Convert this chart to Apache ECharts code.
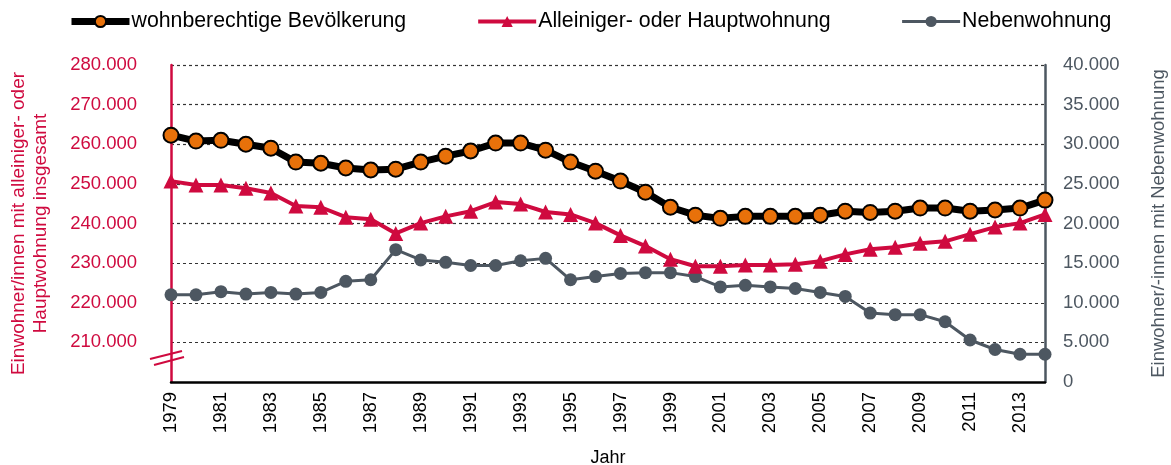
<!DOCTYPE html>
<html>
<head>
<meta charset="utf-8">
<script src="https://cdn.jsdelivr.net/npm/echarts@6/dist/echarts.min.js"></script>
<style>
    html, body { margin: 0; padding: 0; background: #fff; }
    #chart { width: 1171px; height: 465px; }
</style>
</head>
<body>
<div id="chart"></div>
<script>
    // Jahre
    const years = ['1979','1980','1981','1982','1983','1984','1985','1986','1987','1988',
        '1989','1990','1991','1992','1993','1994','1995','1996','1997','1998',
        '1999','2000','2001','2002','2003','2004','2005','2006','2007','2008',
        '2009','2010','2011','2012','2013','2014'];
    // wohnberechtigte Bevölkerung (linke Achse)
    const wohnberechtigt = [262300, 260800, 261000, 260000, 259000, 255500, 255200, 254000, 253500, 253700,
        255500, 257000, 258300, 260300, 260300, 258500, 255500, 253200, 250700, 247900,
        244100, 242100, 241300, 241800, 241800, 241800, 242100, 243100, 242800, 243100,
        243900, 243900, 243100, 243400, 243900, 245900];
    // Alleiniger- oder Hauptwohnung (linke Achse)
    const hauptwohnung = [250700, 249700, 249700, 248900, 247700, 244400, 244100, 241600, 241100, 237500,
        240100, 241800, 243100, 245400, 244900, 242900, 242300, 240100, 237000, 234300,
        231000, 229200, 229200, 229500, 229500, 229700, 230500, 232200, 233500, 234000,
        235000, 235500, 237300, 239100, 240100, 242300];
    // Nebenwohnung (rechte Achse)
    const nebenwohnung = [11000, 11000, 11400, 11100, 11300, 11100, 11300, 12700, 12900, 16700,
        15400, 15100, 14700, 14700, 15300, 15600, 12900, 13300, 13700, 13800,
        13800, 13300, 12000, 12200, 12000, 11800, 11300, 10800, 8700, 8500,
        8500, 7600, 5300, 4100, 3500, 3500];

    const red = '#cf0a3f';
    const grey = '#4d5761';
    const orange = '#e8710a';
    const font = 'Liberation Sans, Arial, sans-serif';

    function fmt(v) {
        return String(v).replace(/\B(?=(\d{3})+(?!\d))/g, '.');
    }

    const myChart = echarts.init(document.getElementById('chart'));
    const option = {
        animation: false,
        textStyle: { fontFamily: font },
        legend: {
            top: 6,
            left: 63,
            itemWidth: 58,
            itemHeight: 14,
            itemGap: 70,
            textStyle: { fontSize: 21.3, color: '#000', padding: [0, 0, 0, -3] },
            data: [
                { name: 'wohnberechtige Bevölkerung', lineStyle: { width: 7 } },
                { name: 'Alleiniger- oder Hauptwohnung', lineStyle: { width: 4 } },
                { name: 'Nebenwohnung', lineStyle: { width: 3 } }
            ]
        },
        grid: { left: 171, right: 126, top: 65, bottom: 83, containLabel: false, outerBoundsMode: 'none' },
        xAxis: {
            type: 'category',
            boundaryGap: false,
            data: years,
            name: 'Jahr',
            nameLocation: 'middle',
            nameGap: 67,
            nameTextStyle: { fontSize: 18, color: '#000' },
            axisLine: { lineStyle: { color: '#000', width: 2.5 } },
            axisTick: { show: false },
            axisLabel: { interval: 1, rotate: 90, fontSize: 18.5, color: '#000', margin: 10 }
        },
        yAxis: [
            {
                type: 'value',
                min: 200000,
                max: 280000,
                interval: 10000,
                name: 'Einwohner/innen mit alleiniger- oder\nHauptwohnung insgesamt',
                nameLocation: 'middle',
                nameRotate: 90,
                nameGap: 119,
                nameTextStyle: { fontSize: 19, color: red, lineHeight: 22, align: 'center' },
                axisLine: { show: true, lineStyle: { color: red, width: 2.5 } },
                axisTick: { show: false },
                axisLabel: {
                    fontSize: 18.5,
                    color: red,
                    margin: 34,
                    formatter: function (v) { return v === 200000 ? '' : fmt(v); }
                },
                splitLine: { lineStyle: { color: '#333', type: [3, 3], width: 1.2 } }
            },
            {
                type: 'value',
                min: 0,
                max: 40000,
                interval: 5000,
                name: 'Einwohner/-innen mit Nebenwohnung',
                nameLocation: 'middle',
                nameRotate: 90,
                nameGap: 104,
                nameTextStyle: { fontSize: 18.5, color: grey },
                axisLine: { show: true, lineStyle: { color: grey, width: 2.5 } },
                axisTick: { show: false },
                axisLabel: { fontSize: 18.5, color: grey, margin: 18, formatter: fmt },
                splitLine: { show: false }
            }
        ],
        series: [
            {
                name: 'Nebenwohnung',
                type: 'line',
                yAxisIndex: 1,
                data: nebenwohnung,
                symbol: 'circle',
                symbolSize: 13,
                itemStyle: { color: grey },
                lineStyle: { color: grey, width: 3 },
                z: 2
            },
            {
                name: 'Alleiniger- oder Hauptwohnung',
                type: 'line',
                data: hauptwohnung,
                symbol: 'triangle',
                symbolSize: 15,
                itemStyle: { color: red },
                lineStyle: { color: red, width: 4 },
                z: 3
            },
            {
                name: 'wohnberechtige Bevölkerung',
                type: 'line',
                data: wohnberechtigt,
                symbol: 'circle',
                symbolSize: 15,
                itemStyle: { color: orange, borderColor: '#000', borderWidth: 2 },
                lineStyle: { color: '#000', width: 7 },
                z: 4
            }
        ]
    };
    myChart.setOption(option);

    // Achsenbruch-Zeichen an der linken Achse
    const p1 = myChart.convertToPixel({ yAxisIndex: 0 }, 206800);
    const p2 = myChart.convertToPixel({ yAxisIndex: 0 }, 205300);
    const ax = myChart.convertToPixel({ xAxisIndex: 0 }, 0);
    myChart.setOption({
        graphic: [
            { type: 'line', shape: { x1: ax - 21, y1: p1 + 4, x2: ax + 11, y2: p1 - 4 }, style: { stroke: red, lineWidth: 2 } },
            { type: 'line', shape: { x1: ax - 17, y1: p2 + 4, x2: ax + 13, y2: p2 - 4 }, style: { stroke: red, lineWidth: 2 } }
        ]
    });
</script>
</body>
</html>
